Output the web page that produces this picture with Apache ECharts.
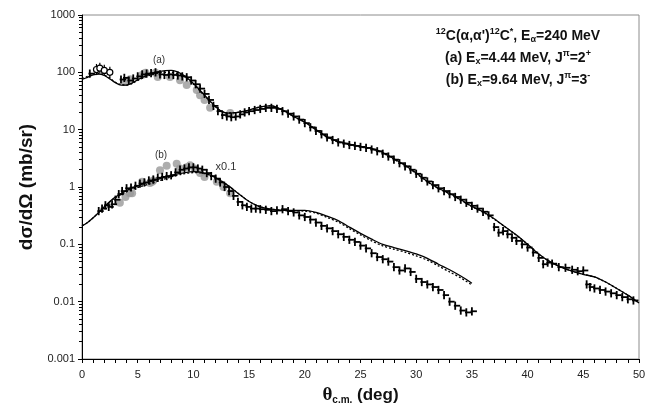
<!DOCTYPE html>
<html>
<head>
<meta charset="utf-8">
<script src="https://cdn.jsdelivr.net/npm/echarts@6/dist/echarts.min.js"></script>
<style>
  html, body { margin: 0; padding: 0; background: #fff; }
  #chart { width: 667px; height: 412px; }
</style>
</head>
<body>
<div id="chart"></div>
<script>
// theory curves, (a) 2+ state
const thA = [0, 0.5, 1, 1.5, 2, 2.5, 3, 3.5, 4, 4.5, 5, 6, 7, 8, 9, 10, 11, 12, 12.5, 13, 14, 15, 16, 17, 18, 19, 20,
  21, 22, 23, 24, 25, 26, 27, 28, 29, 30, 31, 32, 33, 34, 35, 36, 37, 38, 39, 40, 41, 42, 43, 44, 45, 46, 47, 48, 49, 50];
const aSolid = [75, 82, 90, 93, 88, 77, 66, 60, 60, 65, 74, 92, 104, 108, 92, 64, 40, 25, 21, 19.5, 20, 22, 25, 26, 22, 17, 13.5,
  10, 7.5, 6.2, 5.6, 5.1, 4.7, 4.0, 3.1, 2.4, 1.75, 1.25, 0.95, 0.77, 0.6, 0.46, 0.37, 0.28, 0.2, 0.145, 0.1, 0.068, 0.05, 0.04, 0.034, 0.03, 0.027, 0.022, 0.017, 0.013, 0.0095];
const aDashed = [78, 85, 92, 95, 90, 79, 67, 61, 60, 64, 72, 88, 98, 100, 88, 62, 39, 25, 21, 19.5, 20, 22, 25, 26, 22, 17, 13.5,
  10, 7.4, 6.1, 5.5, 5.0, 4.6, 3.9, 3.05, 2.35, 1.72, 1.23, 0.94, 0.76, 0.59, 0.455, 0.365, 0.275, 0.2, 0.143, 0.1, 0.067, 0.05, 0.04, 0.034, 0.03, 0.027, 0.022, 0.017, 0.013, 0.0095];

// theory curves, (b) 3- state (x0.1)
const thB = [0, 0.5, 1, 1.5, 2, 2.5, 3, 4, 5, 6, 7, 8, 9, 10, 11, 12, 13, 14, 15, 16, 17, 18, 19, 20,
  21, 22, 23, 24, 25, 26, 27, 28, 29, 30, 31, 32, 33, 34, 35];
const bSolid = [0.21, 0.24, 0.29, 0.36, 0.45, 0.56, 0.67, 0.87, 1.05, 1.22, 1.4, 1.6, 1.75, 1.85, 1.75, 1.45, 1.1, 0.78, 0.56, 0.45, 0.41, 0.39, 0.39, 0.39,
  0.36, 0.31, 0.26, 0.2, 0.155, 0.123, 0.1, 0.088, 0.078, 0.068, 0.057, 0.045, 0.036, 0.028, 0.021];
const bDashed = [0.21, 0.24, 0.29, 0.36, 0.45, 0.55, 0.65, 0.83, 0.98, 1.12, 1.3, 1.5, 1.68, 1.78, 1.72, 1.44, 1.1, 0.78, 0.56, 0.45, 0.41, 0.39, 0.385, 0.38,
  0.35, 0.295, 0.245, 0.188, 0.146, 0.115, 0.094, 0.082, 0.073, 0.063, 0.053, 0.042, 0.033, 0.026, 0.0195];

// measured points with error bars
const aDataX = [0.7, 3.5, 3.8, 4.2, 4.6, 5.0, 5.4, 5.8, 6.2, 6.6, 7.0, 7.4, 7.8, 8.2, 8.6, 9.0, 9.4, 9.8, 10.2, 10.6, 11.0, 11.4, 11.8,
  12.2, 12.6, 13.0, 13.4, 13.8, 14.2, 14.6, 15.0, 15.5, 16.0, 16.5, 17.0, 17.5, 18.0, 18.5, 19.0, 19.5, 20.0, 20.5, 21.0, 21.5,
  22.0, 22.5, 23.0, 23.5, 24.0, 24.5, 25.0, 25.5, 26.0, 26.5, 27.0, 27.5, 28.0, 28.5, 29.0, 29.5, 30.0, 30.5, 31.0, 31.5, 32.0,
  32.5, 33.0, 33.5, 34.0, 34.5, 35.0, 35.5, 36.0, 36.5, 37.0, 37.4, 37.8, 38.2, 38.6, 39.0, 39.5, 40.0, 40.5, 41.0, 41.4, 41.8,
  42.2, 42.8, 43.4, 44.0, 44.5, 45.0, 45.3, 45.6, 46.0, 46.5, 47.0, 47.5, 48.0, 48.5, 49.0, 49.5];
const aDataY = [95, 75, 80, 72, 78, 85, 92, 95, 97, 100, 92, 90, 92, 90, 88, 85, 82, 72, 62, 52, 42, 33, 26,
  21, 18, 17, 16.5, 17, 18.5, 20, 21, 22, 23, 24, 24, 23, 21, 19, 17, 15, 13, 11, 9.5, 8.3,
  7.3, 6.6, 6.0, 5.7, 5.4, 5.2, 5.0, 4.8, 4.5, 4.2, 3.8, 3.4, 3.0, 2.6, 2.3, 2.0, 1.7, 1.45, 1.25, 1.08, 0.95,
  0.85, 0.75, 0.67, 0.6, 0.53, 0.47, 0.42, 0.37, 0.32, 0.2, 0.16, 0.17, 0.15, 0.13, 0.115, 0.1, 0.088, 0.072, 0.058, 0.045, 0.048,
  0.046, 0.04, 0.039, 0.036, 0.034, 0.035, 0.02, 0.018, 0.017, 0.016, 0.015, 0.014, 0.013, 0.012, 0.011, 0.0105];
const aOpenX = [1.3, 1.6, 2.0, 2.5];
const aOpenY = [112, 118, 108, 100];

const bDataX = [1.5, 1.8, 2.1, 2.4, 2.7, 3.0, 3.3, 3.6, 4.0, 4.4, 4.8, 5.2, 5.6, 6.0, 6.4, 6.8, 7.2, 7.6, 8.0, 8.4, 8.8, 9.2,
  9.6, 10.0, 10.4, 10.8, 11.2, 11.6, 12.0, 12.4, 12.8, 13.2, 13.6, 14.0, 14.4, 14.8, 15.2, 15.6, 16.0, 16.5, 17.0, 17.5, 18.0,
  18.5, 19.0, 19.5, 20.0, 20.5, 21.0, 21.5, 22.0, 22.5, 23.0, 23.5, 24.0, 24.5, 25.0, 25.5, 26.0, 26.5, 27.0, 27.5, 28.0,
  28.5, 29.0, 29.5, 30.0, 30.5, 31.0, 31.5, 32.0, 32.5, 33.0, 33.5, 34.0, 34.5, 35.0];
const bDataY = [0.38, 0.42, 0.48, 0.45, 0.5, 0.6, 0.75, 0.85, 0.95, 0.98, 1.05, 1.15, 1.2, 1.3, 1.35, 1.45, 1.5, 1.55, 1.6, 1.8, 2.0, 2.1,
  2.2, 2.2, 2.1, 2.0, 1.75, 1.55, 1.4, 1.2, 1.0, 0.85, 0.7, 0.55, 0.48, 0.45, 0.42, 0.42, 0.41, 0.4, 0.38, 0.39, 0.41,
  0.38, 0.36, 0.32, 0.3, 0.27, 0.24, 0.21, 0.19, 0.17, 0.15, 0.135, 0.12, 0.11, 0.095, 0.085, 0.07, 0.06, 0.055, 0.05, 0.04,
  0.035, 0.038, 0.033, 0.025, 0.022, 0.02, 0.018, 0.016, 0.013, 0.01, 0.0085, 0.007, 0.0065, 0.0068];

// gray circles (second data set)
const aGrayX = [3.9, 4.3, 5.4, 5.7, 6.6, 6.8, 7.9, 8.8, 9.4, 10.3, 10.6, 11.0, 11.5, 13.3];
const aGrayY = [68, 76, 90, 98, 98, 83, 83, 73, 60, 49, 40, 33, 24, 19.5];
const bGrayX = [3.4, 3.9, 4.3, 4.5, 5.4, 6.1, 6.3, 6.4, 7.0, 7.6, 8.5, 8.8, 9.4, 9.7, 10.1, 10.6, 11.0, 12.1, 12.7, 13.3];
const bGrayY = [0.53, 0.67, 0.78, 0.78, 1.24, 1.17, 1.24, 1.3, 1.95, 2.35, 2.55, 2.1, 2.2, 2.4, 2.1, 1.75, 1.5, 1.24, 1.0, 0.78];

const pair = (xs, ys) => xs.map((x, i) => [x, ys[i]]);

const errBar = (params, api) => {
  const x = api.value(0), y = api.value(1);
  const l = api.coord([x - 0.12, y]), r = api.coord([x + 0.45, y]);
  const t = api.coord([x, y * 1.18]), b = api.coord([x, y / 1.18]);
  const st = { stroke: '#000', lineWidth: 1.8 };
  return {
    type: 'group',
    children: [
      { type: 'line', shape: { x1: l[0], y1: l[1], x2: r[0], y2: r[1] }, style: st },
      { type: 'line', shape: { x1: t[0], y1: t[1], x2: b[0], y2: b[1] }, style: st }
    ]
  };
};
const openBar = (params, api) => {
  const x = api.value(0), y = api.value(1);
  const c = api.coord([x, y]);
  const t = api.coord([x, y * 1.25]), b = api.coord([x, y / 1.25]);
  return {
    type: 'group',
    children: [
      { type: 'line', shape: { x1: t[0], y1: t[1], x2: b[0], y2: b[1] }, style: { stroke: '#000', lineWidth: 1.2 } },
      { type: 'circle', shape: { cx: c[0], cy: c[1], r: 3 }, style: { stroke: '#000', fill: '#fff', lineWidth: 1.2 } }
    ]
  };
};

const lineSeries = (xs, ys, dashed) => ({
  type: 'line',
  data: pair(xs, ys),
  smooth: 0.3,
  showSymbol: false,
  z: 5,
  lineStyle: { color: '#000', width: 1.3, type: dashed ? [2, 2] : 'solid' }
});

const supSub = {
  p: { font: 'bold 9px "Liberation Sans"', fill: '#111', padding: [0, 0, 8, 0] },
  b: { font: 'bold 9px "Liberation Sans"', fill: '#111', padding: [7, 0, 0, 0] }
};
const note = (y, text) => ({
  type: 'text', x: 518, y: y,
  style: { text: text, textAlign: 'center', textVerticalAlign: 'middle', font: 'bold 14px "Liberation Sans"', fill: '#111', rich: supSub }
});

const chart = echarts.init(document.getElementById('chart'));
chart.setOption({
  backgroundColor: '#fff',
  animation: false,
  grid: { left: 82, right: 28, top: 15, bottom: 53, show: true, borderColor: '#8c8c8c', borderWidth: 1 },
  xAxis: {
    type: 'value', min: 0, max: 50, interval: 5,
    name: '{t|θ}{s|c.m.}{n| (deg)}',
    nameLocation: 'middle', nameGap: 27,
    nameTextStyle: {
      rich: {
        t: { fontFamily: 'Liberation Serif', fontWeight: 'bold', fontSize: 19, color: '#111' },
        s: { fontFamily: 'Liberation Sans', fontWeight: 'bold', fontSize: 10, color: '#111', padding: [9, 0, 0, 0] },
        n: { fontFamily: 'Liberation Sans', fontWeight: 'bold', fontSize: 17, color: '#111' }
      }
    },
    axisLine: { lineStyle: { color: '#000', width: 1 } },
    axisTick: { inside: false, length: 4, lineStyle: { color: '#000' } },
    minorTick: { show: true, splitNumber: 5, length: 4, lineStyle: { color: '#000' } },
    axisLabel: { color: '#222', fontSize: 11, fontFamily: 'Liberation Sans', margin: 10 },
    splitLine: { show: false }
  },
  yAxis: {
    type: 'log', logBase: 10, min: 0.001, max: 1000,
    name: 'dσ/dΩ (mb/sr)',
    nameLocation: 'middle', nameGap: 46,
    nameTextStyle: { fontFamily: 'Liberation Sans', fontWeight: 'bold', fontSize: 19, color: '#111' },
    axisLine: { show: true, lineStyle: { color: '#000', width: 1 } },
    axisTick: { show: true, length: 4, lineStyle: { color: '#000' } },
    minorTick: { show: true, splitNumber: 9, length: 3, lineStyle: { color: '#000' } },
    axisLabel: {
      color: '#222', fontSize: 11, fontFamily: 'Liberation Sans', margin: 7,
      formatter: v => String(Number(v.toPrecision(3)))
    },
    splitLine: { show: false }
  },
  graphic: [
    note(36, '{p|12}C(α,α\'){p|12}C{p|*}, E{b|α}=240 MeV'),
    note(58, '(a) E{b|x}=4.44 MeV, J{p|π}=2{p|+}'),
    note(80, '(b) E{b|x}=9.64 MeV, J{p|π}=3{p|-}'),
    { type: 'text', x: 159, y: 60, style: { text: '(a)', textAlign: 'center', textVerticalAlign: 'middle', font: '10px "Liberation Sans"', fill: '#333' } },
    { type: 'text', x: 161, y: 155, style: { text: '(b)', textAlign: 'center', textVerticalAlign: 'middle', font: '10px "Liberation Sans"', fill: '#333' } },
    { type: 'text', x: 226, y: 167, style: { text: 'x0.1', textAlign: 'center', textVerticalAlign: 'middle', font: '11px "Liberation Sans"', fill: '#333' } }
  ],
  series: [
    { type: 'scatter', data: pair(aGrayX, aGrayY), symbol: 'circle', symbolSize: 8, itemStyle: { color: '#999' }, z: 2 },
    { type: 'scatter', data: pair(bGrayX, bGrayY), symbol: 'circle', symbolSize: 8, itemStyle: { color: '#999' }, z: 2 },
    { type: 'custom', renderItem: errBar, data: pair(aDataX, aDataY), z: 3 },
    { type: 'custom', renderItem: errBar, data: pair(bDataX, bDataY), z: 3 },
    { type: 'custom', renderItem: openBar, data: pair(aOpenX, aOpenY), z: 3 },
    lineSeries(thA, aSolid, false),
    lineSeries(thA, aDashed, true),
    lineSeries(thB, bSolid, false),
    lineSeries(thB, bDashed, true)
  ]
});
</script>
</body>
</html>
